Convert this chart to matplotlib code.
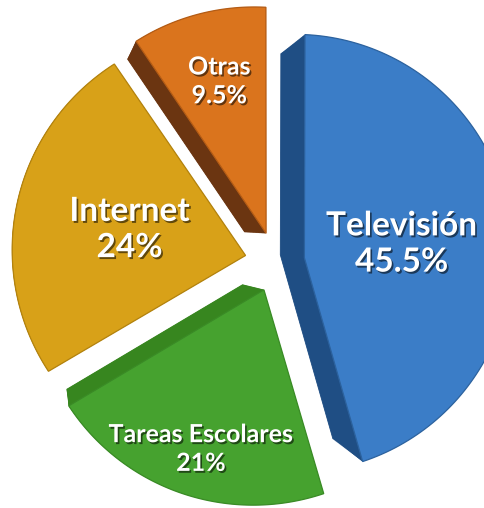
import matplotlib
matplotlib.use("Agg")
import matplotlib.pyplot as plt
import matplotlib.patheffects as pe
import numpy as np
from matplotlib.patches import Polygon

# Time spent by activity (percent)
labels = ["Televisión", "Tareas Escolares", "Internet", "Otras"]
values = [45.5, 21, 24, 9.5]
value_text = ["45.5%", "21%", "24%", "9.5%"]

top_colors = ["#3b7dc7", "#46a22f", "#d8a118", "#da741d"]
side_colors = ["#1f4e84", "#37861f", "#a8760f", "#6b3511"]
edge_colors = ["#2c629e", "#3a8b26", "#b3830f", "#b45c15"]
label_radius = [0.46, 0.78, 0.52, 0.70]
label_size = [24, 18, 24, 18]

explode = 0.136
tilt = (0.045, -0.02)      # perspective: left and top of the pie sit nearer the eye
depth = 0.93               # bottom face shrinks towards the vanishing point
base_radius = 0.97
vanish = np.array([-1.43, 0.21])


def project(pts):
    w = 1.0 + tilt[0] * pts[:, 0] + tilt[1] * pts[:, 1]
    return pts / w[:, None]


def wedge_points(apex, radius, theta1, theta2):
    th = np.deg2rad(np.linspace(theta1, theta2, 120))
    arc = np.column_stack([apex[0] + radius * np.cos(th), apex[1] + radius * np.sin(th)])
    return np.vstack([apex, arc])


fig = plt.figure(figsize=(4.85, 5.08), dpi=100)
ax = fig.add_axes([0, 0, 1, 1])
ax.set_xlim(-1.25, 0.955)
ax.set_ylim(-1.118, 1.191)
ax.set_aspect("equal")
ax.axis("off")

shadow = [pe.withSimplePatchShadow(offset=(1.2, -1.4), shadow_rgbFace="black", alpha=0.55)]

angle = 90.0
for name, val, txt, top, side, edge, lr, fs in zip(
    labels, values, value_text, top_colors, side_colors, edge_colors, label_radius, label_size
):
    sweep = 360.0 * val / sum(values)
    theta1, theta2 = angle - sweep, angle
    mid = np.deg2rad(angle - sweep / 2)
    angle -= sweep
    apex = np.array([explode * np.cos(mid), explode * np.sin(mid)])

    # extruded side: stack of slices rising from the bottom face to the top
    for t in np.linspace(0.0, 1.0, 30)[:-1]:
        r = base_radius + (1.0 - base_radius) * t
        s = depth + (1.0 - depth) * t
        pts = vanish + s * (project(wedge_points(apex, r, theta1, theta2)) - vanish)
        ax.add_patch(Polygon(pts, closed=True, facecolor=side, edgecolor=side, lw=0.6))

    top_pts = project(wedge_points(apex, 1.0, theta1, theta2))
    ax.add_patch(Polygon(top_pts, closed=True, facecolor=top, edgecolor=edge, lw=0.9))

    lx, ly = project(np.array([[apex[0] + lr * np.cos(mid), apex[1] + lr * np.sin(mid)]]))[0]
    ax.text(
        lx, ly, f"{name}\n{txt}",
        ha="center", va="center", color="white", fontsize=fs,
        fontfamily="Lato", fontweight="bold", linespacing=1.3,
        path_effects=shadow,
    )

fig.savefig("out.png", dpi=100)
